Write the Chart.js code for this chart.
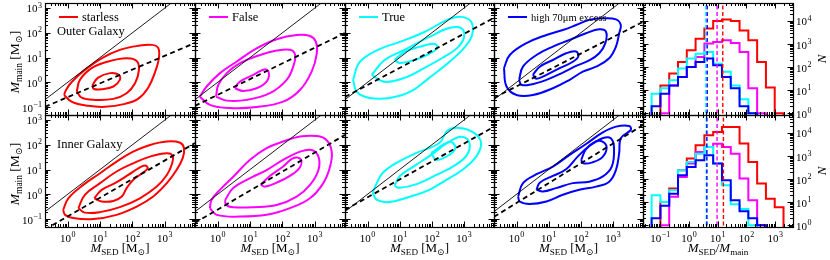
<!DOCTYPE html>
<html>
<head>
<meta charset="utf-8">
<script src="https://cdn.jsdelivr.net/npm/chart.js@4.4.1/dist/chart.umd.min.js"></script>
<style>
  body { margin: 0; background: #fff; }
  #wrap { position: relative; width: 830px; height: 260px; }
  #wrap canvas { position: absolute; left: 0; top: 0; }
</style>
</head>
<body>
<div id="wrap"></div>
<script>
var categories = ['starless', 'False', 'True', 'high 70\u03bcm excess'];
var catColors = ['#ff0000', '#ff00ff', '#00ffff', '#0000ff'];
var regions = ['Outer Galaxy', 'Inner Galaxy'];

// contour levels, points are [log10 M_SED, log10 M_main]
var starlessOuter = [
  [[-0.11,-0.51],[0.13,-0.79],[0.63,-0.95],[1.15,-0.99],[1.77,-0.87],[2.17,-0.67],[2.48,-0.23],[2.70,0.42],[2.82,1.02],[2.79,1.39],[2.60,1.51],[2.17,1.47],[1.61,1.31],[1.06,0.98],[0.53,0.50],[0.13,0.02],[-0.05,-0.31]],
  [[0.28,-0.37],[0.38,0.10],[0.74,0.57],[1.25,0.84],[1.82,0.97],[2.13,0.86],[2.20,0.50],[2.08,-0.04],[1.82,-0.44],[1.41,-0.67],[0.84,-0.71],[0.43,-0.62]],
  [[0.76,-0.13],[0.94,0.19],[1.31,0.37],[1.58,0.30],[1.61,0.10],[1.41,-0.17],[1.05,-0.28],[0.81,-0.27]]
];
var falseOuter = [
  [[-0.55,-0.58],[-0.24,-0.91],[0.38,-1.04],[1.20,-1.0],[2.02,-0.78],[2.54,-0.31],[2.90,0.43],[3.06,1.17],[3.03,1.64],[2.85,1.87],[2.44,1.91],[1.82,1.74],[1.20,1.37],[0.59,0.84],[0.07,0.37],[-0.34,-0.17]],
  [[-0.05,-0.58],[0.28,-0.74],[0.90,-0.71],[1.61,-0.44],[2.13,0.10],[2.33,0.63],[2.39,1.10],[2.23,1.31],[1.82,1.28],[1.31,1.10],[0.69,0.77],[0.28,0.37],[0.02,-0.10]],
  [[0.53,-0.24],[0.69,0.03],[1.10,0.30],[1.46,0.53],[1.58,0.37],[1.51,0.03],[1.20,-0.24],[0.79,-0.35]]
];
var trueOuter = [
  [[-0.45,0.10],[-0.24,0.82],[0.32,1.31],[1.0,1.63],[1.77,2.03],[2.48,2.52],[2.91,2.64],[3.22,2.44],[3.25,1.91],[3.0,1.39],[2.54,0.82],[1.92,0.18],[1.31,-0.39],[0.69,-0.63],[0.07,-0.63],[-0.33,-0.39]],
  [[0.13,0.30],[0.53,0.90],[1.15,1.31],[1.92,1.83],[2.54,2.19],[2.91,2.19],[3.0,1.83],[2.79,1.39],[2.32,0.98],[1.77,0.58],[1.15,0.18],[0.53,0.02]],
  [[0.84,0.90],[1.15,1.23],[1.61,1.43],[2.08,1.55],[2.17,1.39],[1.92,1.15],[1.46,0.90],[1.0,0.78]]
];
var high70Outer = [
  [[-0.39,0.57],[-0.21,1.10],[0.31,1.58],[0.93,1.91],[1.44,2.11],[1.85,2.31],[2.26,2.52],[2.67,2.58],[3.09,2.54],[3.24,2.31],[3.19,1.98],[3.09,1.44],[2.88,0.97],[2.47,0.63],[2.06,0.43],[1.65,0.10],[1.13,-0.24],[0.51,-0.51],[0.0,-0.51],[-0.31,-0.17]],
  [[0.08,0.10],[0.20,0.63],[0.62,1.10],[1.13,1.44],[1.65,1.71],[2.16,1.98],[2.57,2.14],[2.78,2.04],[2.76,1.58],[2.57,1.17],[2.26,0.88],[1.85,0.66],[1.44,0.39],[0.93,0.10],[0.41,-0.10],[0.15,-0.10]],
  [[0.51,0.30],[0.72,0.63],[1.13,0.90],[1.54,1.17],[1.85,1.24],[1.92,1.04],[1.75,0.83],[1.34,0.57],[0.93,0.30],[0.62,0.14]]
];
var starlessInner = [
  [[-0.14,-0.63],[0.02,-0.16],[0.48,0.38],[1.0,0.85],[1.51,1.32],[2.02,1.72],[2.54,1.99],[3.06,2.13],[3.47,2.08],[3.59,1.86],[3.55,1.46],[3.36,0.98],[3.06,0.45],[2.64,-0.09],[2.13,-0.50],[1.51,-0.83],[0.79,-1.0],[0.17,-0.96],[-0.08,-0.83]],
  [[0.33,-0.56],[0.53,-0.02],[1.0,0.45],[1.51,0.92],[2.02,1.25],[2.54,1.52],[3.06,1.66],[3.24,1.55],[3.21,1.19],[3.06,0.78],[2.75,0.31],[2.23,-0.16],[1.61,-0.52],[1.0,-0.72],[0.53,-0.74]],
  [[0.82,-0.16],[1.05,0.18],[1.46,0.45],[1.87,0.78],[2.18,1.05],[2.39,1.16],[2.47,1.05],[2.30,0.85],[2.02,0.58],[1.82,0.25],[1.67,-0.09],[1.41,-0.27],[1.05,-0.29]]
];
var falseInner = [
  [[-0.24,-0.56],[-0.03,-0.83],[0.69,-0.90],[1.51,-0.83],[2.23,-0.56],[2.85,-0.16],[3.26,0.45],[3.47,1.12],[3.52,1.72],[3.36,2.19],[3.06,2.35],[2.54,2.33],[2.02,2.13],[1.51,1.86],[1.0,1.39],[0.48,0.71],[0.07,0.18],[-0.19,-0.23]],
  [[0.23,-0.23],[0.48,0.25],[1.0,0.65],[1.51,0.98],[2.02,1.39],[2.54,1.72],[2.90,1.79],[3.11,1.52],[3.11,0.98],[2.85,0.38],[2.44,-0.09],[1.82,-0.43],[1.10,-0.52],[0.48,-0.52],[0.26,-0.43]],
  [[1.33,0.38],[1.61,0.74],[2.02,1.12],[2.33,1.46],[2.56,1.42],[2.54,1.09],[2.23,0.74],[1.82,0.47],[1.46,0.31]]
];
var trueInner = [
  [[0.16,0.06],[0.29,0.46],[0.47,0.86],[0.90,1.27],[1.52,1.67],[2.23,2.07],[2.48,2.56],[2.85,2.68],[3.31,2.48],[3.53,2.07],[3.37,1.51],[2.94,0.98],[2.45,0.58],[1.92,0.18],[1.31,-0.10],[0.69,-0.31],[0.29,-0.23]],
  [[0.84,0.34],[1.0,0.73],[1.46,1.15],[1.98,1.59],[2.48,2.07],[2.91,2.32],[3.16,2.11],[3.09,1.59],[2.69,1.15],[2.14,0.78],[1.55,0.42],[1.0,0.26]],
  [[1.98,1.67],[2.39,2.03],[2.60,2.11],[2.73,1.87],[2.54,1.59],[2.14,1.39]]
];
var high70Inner = [
  [[0.05,-0.09],[0.20,0.45],[0.62,0.81],[1.13,1.12],[1.65,1.59],[2.16,2.03],[2.67,2.49],[3.09,2.73],[3.50,2.76],[3.55,2.60],[3.24,2.26],[3.19,1.66],[3.09,0.98],[2.88,0.51],[2.47,0.31],[1.95,0.18],[1.44,-0.02],[0.93,-0.29],[0.41,-0.39],[0.10,-0.29]],
  [[0.62,0.18],[0.72,0.47],[1.13,0.74],[1.54,1.01],[1.90,1.52],[2.26,1.95],[2.67,2.26],[2.93,2.26],[3.03,1.86],[2.96,1.12],[2.67,0.71],[2.26,0.51],[1.75,0.45],[1.23,0.25],[0.82,0.11]],
  [[2.01,1.39],[2.16,1.82],[2.47,2.13],[2.67,2.13],[2.80,1.90],[2.67,1.50],[2.36,1.29],[2.07,1.25]]
];

// dashed power-law fits: log Mmain = a + b log Msed
var fitSlopeOuter = [0.557, 0.635, 0.689, 0.663];
var fitInterceptOuter = [-0.60, -0.506, -0.108, -0.166];
var fitSlopeInner = [0.754, 0.767, 0.724, 0.80];
var fitInterceptInner = [-0.895, -0.616, -0.123, -0.35];

// histograms of M_SED / M_main (log10 bin edges)
var binEdges = [-1.3, -0.994, -0.688, -0.382, -0.076, 0.23, 0.536, 0.842, 1.148, 1.454, 1.76, 2.066, 2.372, 2.678, 2.984, 3.29];
var histOuterStarless = [0, 16, 52, 166, 540, 1700, 4700, 10000, 11500, 10000, 3900, 1450, 166, 13, 1];
var histOuterFalse = [0, 1, 16, 37, 100, 275, 1050, 1230, 1450, 1100, 450, 12, 1, 0, 0];
var histOuterTrue = [7, 12, 27, 87, 234, 380, 450, 140, 62, 16, 4, 1, 0, 0, 0];
var histOuterHigh70 = [2, 7, 16, 37, 100, 166, 234, 120, 37, 12, 2, 1, 0, 0, 0];
var histInnerStarless = [0, 10, 39, 240, 780, 2900, 7900, 11000, 18000, 18000, 3500, 550, 65, 14, 6];
var histInnerFalse = [0, 1, 17, 123, 470, 1480, 2450, 3450, 2450, 1260, 105, 12, 1, 0, 0];
var histInnerTrue = [20, 10, 33, 240, 550, 1260, 2450, 470, 54, 8, 5, 1, 0, 0, 0];
var histInnerHigh70 = [2, 7, 23, 146, 330, 650, 1070, 470, 89, 12, 4, 2, 1, 0, 0];
var medianOuter = [15.0, 9.5, 3.8, 4.3];
var medianInner = [15.8, 9.5, 4.0, 4.2];

// ---- layout ----
var colLeft = [45, 195, 345, 494, 643];
var colRight = [195, 345, 494, 643, 793];
var rowTop = [3, 115];
var rowBottom = [115, 227];
var xMinC = Math.pow(10, -0.7), xMaxC = Math.pow(10, 3.93);
var yMinC = Math.pow(10, -1.32), yMaxC = Math.pow(10, 3.2);
var xMinH = Math.pow(10, -1.6), xMaxH = Math.pow(10, 3.62);
var yMinH = Math.pow(10, -0.08), yMaxH = Math.pow(10, 4.78);

var FONT = '"Liberation Serif", "DejaVu Serif", serif';

function powLabel(ctx, e, x, y, align) {
  ctx.font = '11px ' + FONT;
  var wb = ctx.measureText('10').width;
  var es = e < 0 ? '\u2212' + (-e) : String(e);
  ctx.font = '8px ' + FONT;
  var we = ctx.measureText(es).width;
  var w = wb + we + 0.5;
  var x0 = align === 'center' ? x - w / 2 : (align === 'right' ? x - w : x);
  ctx.textAlign = 'left';
  ctx.textBaseline = 'alphabetic';
  ctx.font = '11px ' + FONT;
  ctx.fillText('10', x0, y);
  ctx.font = '8px ' + FONT;
  ctx.fillText(es, x0 + wb + 0.5, y - 4.8);
}

function drawRuns(ctx, runs, x, y, size, rotate) {
  function fontOf(r) {
    return (r.i ? 'italic ' : '') + (r.s ? size * 0.7 : size) + 'px ' + FONT;
  }
  var w = 0;
  runs.forEach(function (r) { ctx.font = fontOf(r); w += ctx.measureText(r.t).width; });
  ctx.save();
  ctx.translate(x, y);
  if (rotate) ctx.rotate(-Math.PI / 2);
  ctx.textAlign = 'left';
  ctx.textBaseline = 'alphabetic';
  var cx = -w / 2;
  runs.forEach(function (r) {
    ctx.font = fontOf(r);
    ctx.fillText(r.t, cx, r.s ? size * 0.25 : 0);
    cx += ctx.measureText(r.t).width;
  });
  ctx.restore();
}

var titleMain = [{t: 'M', i: 1}, {t: 'main', s: 1}, {t: ' [M'}, {t: '\u2299', s: 1}, {t: ']'}];
var titleSed = [{t: 'M', i: 1}, {t: 'SED', s: 1}, {t: ' [M'}, {t: '\u2299', s: 1}, {t: ']'}];
var titleRatio = [{t: 'M', i: 1}, {t: 'SED', s: 1}, {t: '/'}, {t: 'M', i: 1}, {t: 'main', s: 1}];
var titleN = [{t: 'N', i: 1}];

function logTicks(min, max) {
  var out = [];
  for (var n = Math.floor(Math.log10(min)); n <= Math.ceil(Math.log10(max)); n++) {
    for (var m = 1; m < 10; m++) {
      var v = m * Math.pow(10, n);
      if (v >= min * 0.999 && v <= max * 1.001) out.push({v: v, major: m === 1, e: n});
    }
  }
  return out;
}

var framePlugin = {
  id: 'frame',
  afterDatasetsDraw: function (chart, args, o) {
    var ctx = chart.ctx, a = chart.chartArea;
    var xs = chart.scales.x, ys = chart.scales.y;
    ctx.save();
    ctx.strokeStyle = '#000';
    ctx.fillStyle = '#000';
    ctx.lineWidth = 1;
    ctx.beginPath();
    var xt = logTicks(xs.min, xs.max), yt = logTicks(ys.min, ys.max);
    xt.forEach(function (t) {
      var px = Math.round(xs.getPixelForValue(t.v)) + 0.5;
      var len = t.major ? 5.5 : 3;
      ctx.moveTo(px, a.bottom); ctx.lineTo(px, a.bottom - len);
      ctx.moveTo(px, a.top); ctx.lineTo(px, a.top + len);
    });
    yt.forEach(function (t) {
      var py = Math.round(ys.getPixelForValue(t.v)) + 0.5;
      var len = t.major ? 5.5 : 3;
      ctx.moveTo(a.left, py); ctx.lineTo(a.left + len, py);
      ctx.moveTo(a.right, py); ctx.lineTo(a.right - len, py);
    });
    ctx.stroke();
    ctx.lineWidth = 1.2;
    ctx.strokeRect(a.left + 0.5, a.top + 0.5, a.right - a.left, a.bottom - a.top);

    if (o.xLabels) {
      xt.forEach(function (t) {
        if (t.major) powLabel(ctx, t.e, xs.getPixelForValue(t.v), a.bottom + 14.5, 'center');
      });
    }
    if (o.yLabels === 'left') {
      yt.forEach(function (t) {
        if (t.major) powLabel(ctx, t.e, a.left - 3, ys.getPixelForValue(t.v) + 4.5, 'right');
      });
    } else if (o.yLabels === 'right') {
      yt.forEach(function (t) {
        if (t.major) powLabel(ctx, t.e, a.right + 3, ys.getPixelForValue(t.v) + 4.5, 'left');
      });
    }
    if (o.legendText) {
      ctx.strokeStyle = o.legendColor;
      ctx.lineWidth = 2;
      ctx.beginPath();
      ctx.moveTo(a.left + 14, a.top + 14);
      ctx.lineTo(a.left + 33, a.top + 14);
      ctx.stroke();
      ctx.font = o.legendSize + 'px ' + FONT;
      ctx.textAlign = 'left';
      ctx.fillText(o.legendText, a.left + 37, a.top + 18);
    }
    if (o.regionText) {
      ctx.font = '12.5px ' + FONT;
      ctx.textAlign = 'left';
      ctx.fillText(o.regionText, a.left + 12, a.top + o.regionY);
    }
    var cxm = (a.left + a.right) / 2, cym = (a.top + a.bottom) / 2;
    if (o.xTitle === 'sed') drawRuns(ctx, titleSed, cxm, 252, 13, false);
    if (o.xTitle === 'ratio') drawRuns(ctx, titleRatio, cxm, 252, 13, false);
    if (o.yTitle === 'main') drawRuns(ctx, titleMain, 19, cym + 3, 13.5, true);
    if (o.yTitle === 'N') drawRuns(ctx, titleN, 826, cym, 13, true);
    ctx.restore();
  }
};

var wrap = document.getElementById('wrap');

function toPts(list) {
  var pts = list.map(function (p) { return {x: Math.pow(10, p[0]), y: Math.pow(10, p[1])}; });
  pts.push(pts[0]);
  return pts;
}

function stepPts(counts, floor) {
  var first = counts.findIndex(function (c) { return c > 0; });
  var last = counts.length - 1;
  while (counts[last] <= 0) last--;
  var pts = [{x: Math.pow(10, binEdges[first]), y: floor}];
  for (var i = first; i <= last; i++) {
    var c = counts[i] > 0 ? counts[i] : floor;
    pts.push({x: Math.pow(10, binEdges[i]), y: c});
    pts.push({x: Math.pow(10, binEdges[i + 1]), y: c});
  }
  pts.push({x: Math.pow(10, binEdges[last + 1]), y: floor});
  return pts;
}

function makeChart(r, c, datasets, xr, yr, pluginOpts) {
  var cv = document.createElement('canvas');
  cv.width = 830; cv.height = 260;
  wrap.appendChild(cv);
  return new Chart(cv, {
    type: 'scatter',
    data: {datasets: datasets},
    options: {
      responsive: false,
      animation: false,
      devicePixelRatio: 1,
      events: [],
      layout: {padding: {left: colLeft[c], top: rowTop[r], right: 830 - colRight[c], bottom: 260 - rowBottom[r]}},
      scales: {
        x: {type: 'logarithmic', min: xr[0], max: xr[1], display: false},
        y: {type: 'logarithmic', min: yr[0], max: yr[1], display: false}
      },
      plugins: {legend: {display: false}, tooltip: {enabled: false}, frame: pluginOpts}
    },
    plugins: [framePlugin]
  });
}

var contourSets = [
  [starlessOuter, falseOuter, trueOuter, high70Outer],
  [starlessInner, falseInner, trueInner, high70Inner]
];
var fitSlopes = [fitSlopeOuter, fitSlopeInner];
var fitIntercepts = [fitInterceptOuter, fitInterceptInner];
var histSets = [
  [histOuterStarless, histOuterFalse, histOuterTrue, histOuterHigh70],
  [histInnerStarless, histInnerFalse, histInnerTrue, histInnerHigh70]
];
var medians = [medianOuter, medianInner];

for (var r = 0; r < 2; r++) {
  for (var c = 0; c < 4; c++) {
    var b = fitSlopes[r][c], a0 = fitIntercepts[r][c];
    var ds = [
      {data: [{x: xMinC, y: Math.pow(10, a0 + b * Math.log10(xMinC))}, {x: xMaxC, y: Math.pow(10, a0 + b * Math.log10(xMaxC))}],
       showLine: true, borderColor: '#000', borderWidth: 1.8, borderDash: [5, 3.5], pointRadius: 0},
      {data: [{x: xMinC, y: xMinC}, {x: xMaxC, y: xMaxC}],
       showLine: true, borderColor: '#000', borderWidth: 0.9, pointRadius: 0}
    ];
    contourSets[r][c].forEach(function (lev) {
      ds.push({data: toPts(lev), showLine: true, borderColor: catColors[c], borderWidth: 2,
               pointRadius: 0, tension: 0.4});
    });
    makeChart(r, c, ds, [xMinC, xMaxC], [yMinC, yMaxC], {
      xLabels: r === 1,
      yLabels: c === 0 ? 'left' : '',
      legendText: r === 0 ? categories[c] : '',
      legendColor: catColors[c],
      legendSize: c === 3 ? 10.5 : 12.5,
      regionText: c === 0 ? regions[r] : '',
      regionY: r === 0 ? 32 : 33,
      xTitle: r === 1 ? 'sed' : '',
      yTitle: c === 0 ? 'main' : ''
    });
  }
  var hds = [];
  for (var k = 3; k >= 0; k--) {
    hds.push({data: [{x: medians[r][k], y: 0.5}, {x: medians[r][k], y: yMaxH * 2}], showLine: true,
              borderColor: catColors[k], borderWidth: 1.4, borderDash: [4, 2.5], pointRadius: 0});
  }
  for (var k2 = 3; k2 >= 0; k2--) {
    hds.push({data: stepPts(histSets[r][k2], 0.5), showLine: true, borderColor: catColors[k2],
              borderWidth: 2, pointRadius: 0, tension: 0});
  }
  makeChart(r, 4, hds, [xMinH, xMaxH], [yMinH, yMaxH], {
    xLabels: r === 1,
    yLabels: 'right',
    xTitle: r === 1 ? 'ratio' : '',
    yTitle: 'N'
  });
}
</script>
</body>
</html>
